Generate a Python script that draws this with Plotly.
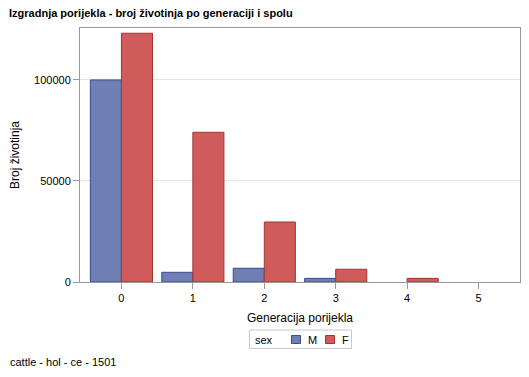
import plotly.graph_objects as go

generations = ["0", "1", "2", "3", "4", "5"]
male = [100000, 4800, 6800, 1800, None, None]
female = [123100, 74100, 29700, 6300, 1800, None]
series_names = ["M", "F"]
fill_colors = ["#6F7EB3", "#D05B5B"]
edge_colors = ["#3A4A8C", "#A23434"]
legend_title = "sex"

# page body has an 8px margin: build the figure in shifted coordinates
OFF = 8
W, H = 529 - OFF, 377 - OFF
L, R, T, B = 80 - OFF, 9, 28 - OFF, 95
ph = H - T - B
pw = W - L - R
bottom = T + ph


def px(x):
    return (x - OFF - L) / pw


def py(y):
    return (bottom - (y - OFF)) / ph


fig = go.Figure()
for name, vals, fc, ec in zip(series_names, [male, female], fill_colors, edge_colors):
    fig.add_trace(go.Bar(x=generations, y=vals, name=name, showlegend=False,
                         marker=dict(color=fc, line=dict(color=ec, width=1))))

font = "Liberation Sans, Arial, sans-serif"

# legend (box, swatches, texts) in page-pixel positions
shapes = [dict(type="rect", xref="paper", yref="paper",
               x0=px(249.5), x1=px(351.5), y0=py(330), y1=py(348.5),
               line=dict(color="#C8C8C8", width=1), fillcolor="white")]
annotations = [dict(text=legend_title, xref="paper", yref="paper", x=px(253), y=py(339.5),
                    xanchor="left", yanchor="middle", showarrow=False, font=dict(size=11))]
for i, (name, fc, ec) in enumerate(zip(series_names, fill_colors, edge_colors)):
    sx = 291.5 + i * 34
    shapes.append(dict(type="rect", xref="paper", yref="paper",
                       x0=px(sx), x1=px(sx + 9), y0=py(335.5), y1=py(343.5),
                       line=dict(color=ec, width=1), fillcolor=fc))
    annotations.append(dict(text=name, xref="paper", yref="paper", x=px(sx + 14.5), y=py(339.5),
                            xanchor="left", yanchor="middle", showarrow=False, font=dict(size=11)))

annotations.append(dict(text="cattle - hol - ce - 1501", xref="paper", yref="paper",
                        x=px(8), y=py(362), xanchor="left", yanchor="middle",
                        showarrow=False, font=dict(size=11, family=font)))

fig.update_layout(
    width=W, height=H,
    margin=dict(l=L, r=R, t=T, b=B, autoexpand=False),
    paper_bgcolor="white", plot_bgcolor="white",
    barmode="group", bargap=0.13, bargroupgap=0,
    font=dict(family=font, size=11, color="black"),
    title=dict(text="<b>Izgradnja porijekla - broj životinja po generaciji i spolu</b>",
               x=0.002, xref="container", xanchor="left",
               y=1 - (13 - OFF) / H, yref="container", yanchor="middle",
               font=dict(size=11, family=font, color="black")),
    showlegend=False,
    xaxis=dict(type="category", range=[-0.58, 5.58],
               showline=True, linecolor="#999999", linewidth=1, mirror=True,
               ticks="outside", ticklen=6, tickcolor="#999999",
               tickfont=dict(size=11),
               title=dict(text="Generacija porijekla", font=dict(size=12), standoff=10),
               showgrid=False, zeroline=False),
    yaxis=dict(range=[0, 125700], tickvals=[0, 50000, 100000], ticktext=["0", "50000", "100000"],
               showline=True, linecolor="#999999", linewidth=1, mirror=True,
               ticks="outside", ticklen=6, tickcolor="#999999",
               tickfont=dict(size=11),
               showgrid=True, gridcolor="#E4E4E4", zeroline=False,
               title=dict(text="Broj životinja", font=dict(size=12), standoff=12)),
    shapes=shapes,
    annotations=annotations,
)

fig.write_html("out.html")
